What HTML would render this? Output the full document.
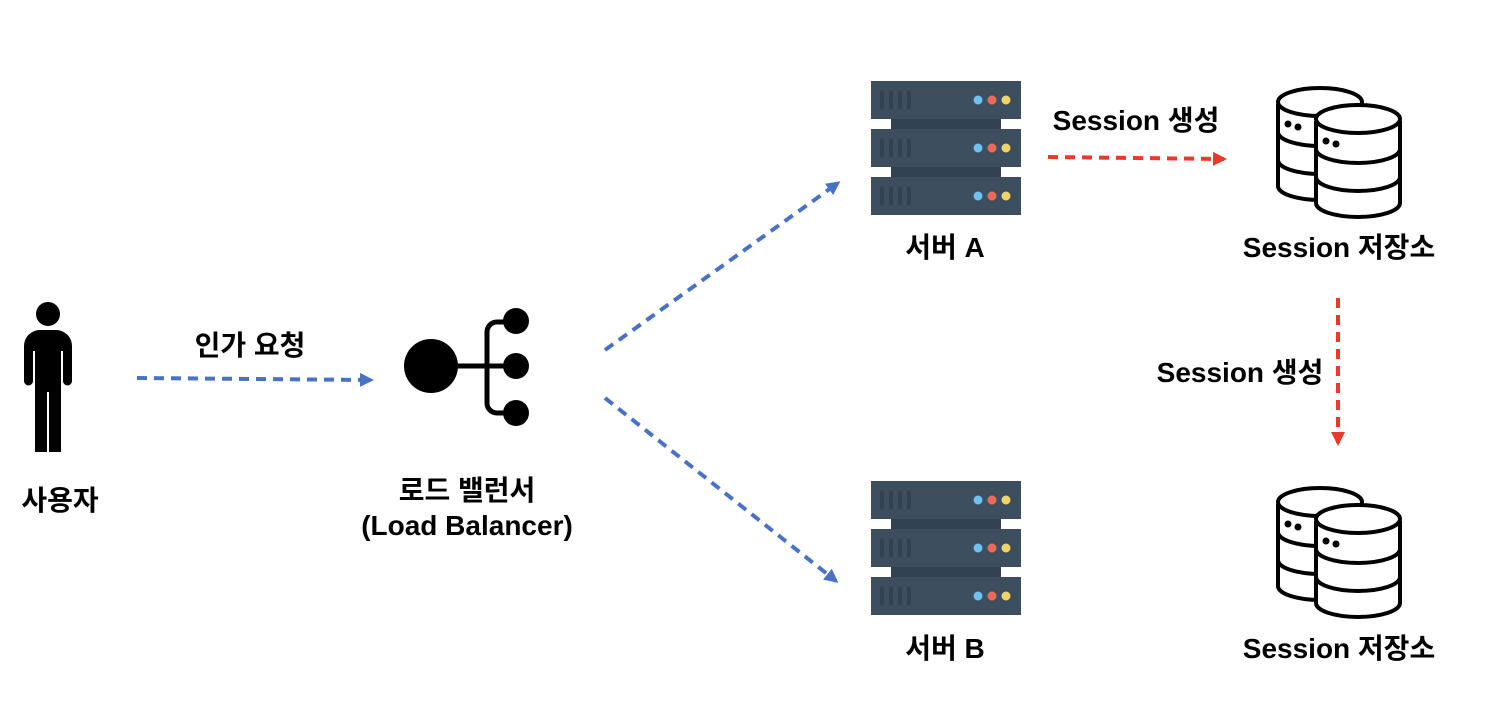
<!DOCTYPE html>
<html><head><meta charset="utf-8"><style>
html,body{margin:0;padding:0;background:#fff;width:1490px;height:724px;overflow:hidden}
text{font-family:"Liberation Sans","Noto Sans CJK KR",sans-serif;font-weight:bold;font-size:28px;fill:#000;text-anchor:middle}
</style></head><body>
<svg width="1490" height="724" viewBox="0 0 1490 724" xmlns="http://www.w3.org/2000/svg">
<defs>
<marker id="ab" markerWidth="14" markerHeight="14" refX="11" refY="7" orient="auto" markerUnits="userSpaceOnUse"><path d="M0,0 L14,7 L0,14 z" fill="#4a72c4"/></marker>
<marker id="ar" markerWidth="14" markerHeight="14" refX="11" refY="7" orient="auto" markerUnits="userSpaceOnUse"><path d="M0,0 L14,7 L0,14 z" fill="#e8392c"/></marker>
<g id="srv">
<rect x="891" y="117" width="110" height="14" fill="#334252"/>
<rect x="891" y="165" width="110" height="14" fill="#334252"/>
<g id="row">
<rect x="871" y="81" width="150" height="38" fill="#3d4f5e"/>
<rect x="880" y="90" width="4" height="20" rx="2" fill="#334252"/>
<rect x="889" y="90" width="4" height="20" rx="2" fill="#334252"/>
<rect x="898" y="90" width="4" height="20" rx="2" fill="#334252"/>
<rect x="907" y="90" width="4" height="20" rx="2" fill="#334252"/>
<circle cx="978" cy="100" r="4.5" fill="#6ec1f0"/>
<circle cx="992" cy="100" r="4.5" fill="#ee6a55"/>
<circle cx="1006" cy="100" r="4.5" fill="#f3d268"/>
</g>
<use href="#row" y="48"/>
<use href="#row" y="96"/>
</g>
<g id="db" fill="#fff" stroke="#000" stroke-width="4">
<path d="M1278,104 v82 a42,14 0 0 0 84,0 v-82"/>
<ellipse cx="1320" cy="102" rx="42" ry="14"/>
<path d="M1278,132 a42,14 0 0 0 84,0 M1278,160 a42,14 0 0 0 84,0" fill="none"/>
<path d="M1316,121 v82 a42,14 0 0 0 84,0 v-82"/>
<ellipse cx="1358" cy="119" rx="42" ry="14"/>
<path d="M1316,149 a42,14 0 0 0 84,0 M1316,177 a42,14 0 0 0 84,0" fill="none"/>
<circle cx="1288" cy="124" r="1.5" fill="#000"/><circle cx="1298" cy="127" r="1.5" fill="#000"/>
<circle cx="1326" cy="141" r="1.5" fill="#000"/><circle cx="1336" cy="144" r="1.5" fill="#000"/>
</g>
</defs>
<use href="#srv"/>
<use href="#srv" y="400"/>
<use href="#db"/>
<use href="#db" y="400"/>
<!-- person -->
<circle cx="48" cy="314" r="12" fill="#000"/>
<path d="M38,330 h20 a16,16 0 0 1 16,16 v35 a4.5,4.5 0 0 1 -9,0 v-30 h-2 v101 h-12 v-60 h-2 v60 h-12 v-101 h-2 v30 a4.5,4.5 0 0 1 -9,0 v-35 a16,16 0 0 1 16,-16z" fill="#000" transform="translate(-2,0)"/>
<!-- LB -->
<circle cx="431" cy="366" r="27" fill="#000"/>
<path d="M455,366 H516 M516,322 H497 a10,10 0 0 0 -10,10 V403 a10,10 0 0 0 10,10 H516" stroke="#000" stroke-width="5" fill="none"/>
<circle cx="516" cy="321" r="13"/><circle cx="516" cy="366" r="13"/><circle cx="516" cy="413" r="13"/>
<!-- arrows -->
<g stroke-width="4" stroke-dasharray="10,7" fill="none">
<line x1="137" y1="378" x2="371" y2="380" stroke="#4a72c4" marker-end="url(#ab)"/>
<line x1="605" y1="350" x2="838" y2="183" stroke="#4a72c4" marker-end="url(#ab)"/>
<line x1="605" y1="398" x2="836" y2="581" stroke="#4a72c4" marker-end="url(#ab)"/>
<line x1="1048" y1="157" x2="1224" y2="159" stroke="#e8392c" marker-end="url(#ar)"/>
<line x1="1338" y1="298" x2="1338" y2="443" stroke="#e8392c" marker-end="url(#ar)"/>
</g>
<text x="250" y="355">인가 요청</text>
<text x="60" y="510">사용자</text>
<text x="467" y="500">로드 밸런서</text>
<text x="467" y="535">(Load Balancer)</text>
<text x="945" y="257">서버 A</text>
<text x="945" y="658">서버 B</text>
<text x="1136" y="130">Session 생성</text>
<text x="1240" y="382">Session 생성</text>
<text x="1339" y="257">Session 저장소</text>
<text x="1339" y="658">Session 저장소</text>
</svg>
</body></html>
